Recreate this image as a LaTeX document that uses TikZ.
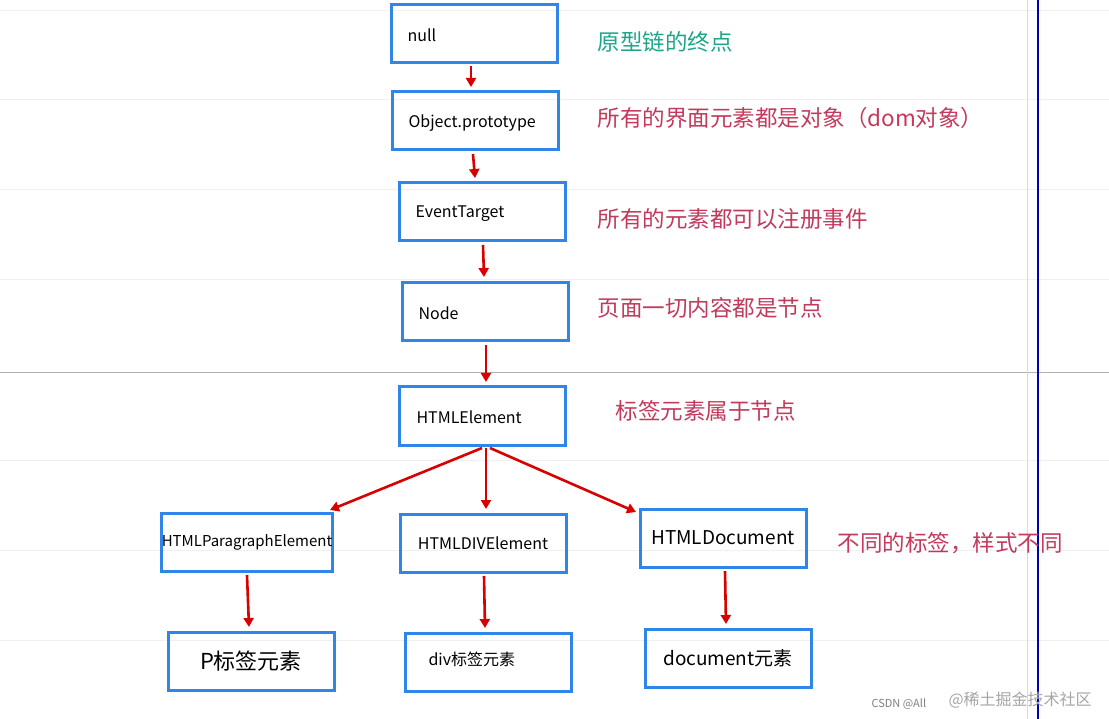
\documentclass[tikz,border=0pt]{standalone}
\usepackage{fontspec}
\setmainfont{Noto Sans CJK SC}
\usetikzlibrary{arrows.meta}
\definecolor{boxblue}{HTML}{2F86E8}
\definecolor{lbl}{HTML}{C23A5C}
\definecolor{teal}{HTML}{1FA68A}
\tikzset{
 bx/.style={draw=boxblue,line width=3pt,minimum width=166pt,minimum height=58pt,inner sep=0pt},
 ar/.style={draw=red!85!black,line width=2.6pt,-{Triangle[length=9pt,width=10pt]}},
 lb/.style={anchor=west,text=lbl,font=\fontsize{22.5}{25}\selectfont},
}
\begin{document}
\begin{tikzpicture}[x=1pt,y=-1pt]
\useasboundingbox[fill=white] (0,0) rectangle (1109,719);
\foreach \y in {10,99,189,279,460,550,640} \draw[gray!12] (0,\y) -- (1109,\y);
\draw[gray!60] (0,372) -- (1109,372);
\draw[blue!70!black,line width=1.2pt] (1038,0) -- (1038,719);
\draw[gray!30] (1027,0) -- (1027,719);
\def\bt{\fontsize{16}{19}\selectfont}
\node[bx] (null) at (474,34) {}; \node[font=\bt,anchor=west] at (404,35) {null};
\node[bx] (obj) at (475,121) {}; \node[font=\bt,anchor=west] at (405,123) {Object.prototype};
\node[bx] (et) at (482,212) {}; \node[font=\bt,anchor=west] at (412,214) {EventTarget};
\node[bx] (node) at (485,312) {}; \node[font=\bt,anchor=west] at (415,313) {Node};
\node[bx] (he) at (482,416) {}; \node[font=\bt,anchor=west] at (413,417) {HTMLElement};
\node[bx,minimum width=168pt] (hp) at (247,542) {\fontsize{15}{18}\selectfont HTMLParagraphElement};
\node[bx] (hd) at (483,543) {\bt HTMLDIVElement};
\node[bx] (hdoc) at (723,538) {\fontsize{19}{22}\selectfont HTMLDocument};
\node[bx] (p) at (251,661) {\fontsize{22}{25}\selectfont P标签元素};
\node[bx] (div) at (488,662) {}; \node[font=\bt,anchor=west] at (425,659) {div标签元素};
\node[bx] (doc) at (728,658) {\fontsize{19}{22}\selectfont document元素};
\draw[ar] (471,66) -- (471,87);
\draw[ar] (473,154) -- (475,178);
\draw[ar] (483,245) -- (484,277);
\draw[ar] (486,345) -- (486,382);
\draw[ar] (482,448) -- (330,510);
\draw[ar] (486,448) -- (486,509);
\draw[ar] (490,448) -- (636,512);
\draw[ar] (247,575) -- (249,627);
\draw[ar] (484,576) -- (485,628);
\draw[ar] (725,571) -- (726,624);
\node[lb,text=teal] at (594,42) {原型链的终点};
\node[lb] at (594,118) {所有的界面元素都是对象（dom对象）};
\node[lb] at (594,219) {所有的元素都可以注册事件};
\node[lb] at (594,308) {页面一切内容都是节点};
\node[lb] at (612,411) {标签元素属于节点};
\node[lb] at (834,543) {不同的标签，样式不同};
\node[anchor=west,text=gray,font=\fontsize{11}{13}\selectfont] at (868,704) {CSDN @All};
\node[anchor=west,text=gray!70,font=\fontsize{16}{18}\selectfont] at (945,700) {@稀土掘金技术社区};
\end{tikzpicture}
\end{document}
